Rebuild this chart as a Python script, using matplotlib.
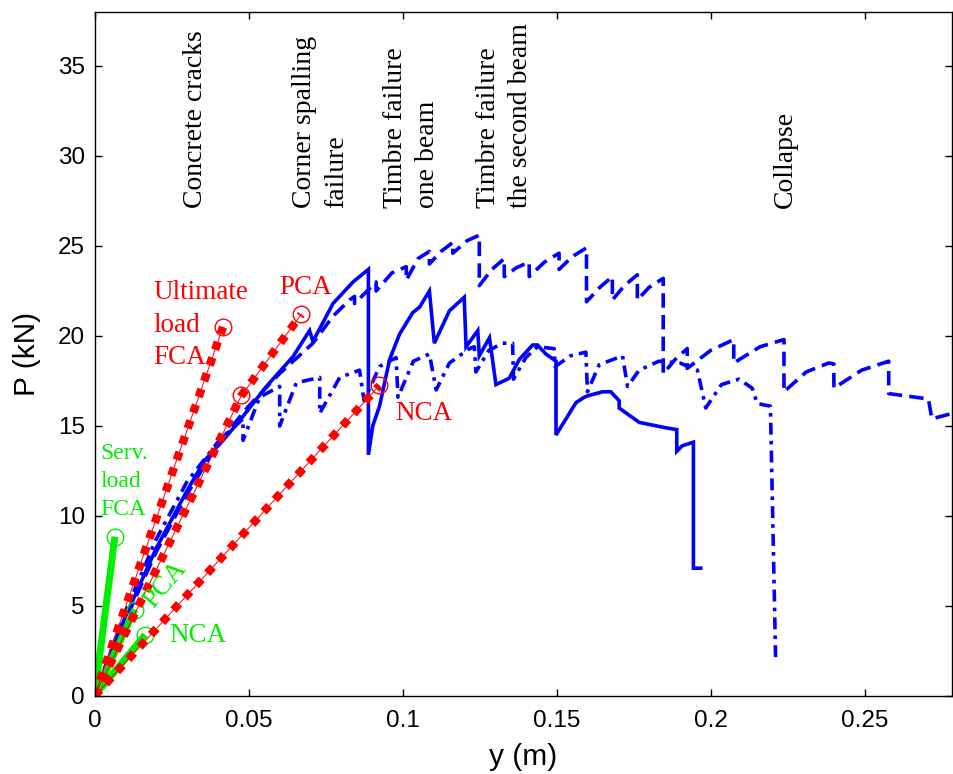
import matplotlib
matplotlib.use('Agg')
import matplotlib.pyplot as plt

# --- test curves ---
solid_x = [0, 0.005, 0.01, 0.02, 0.03, 0.0358, 0.0417, 0.0471, 0.0558, 0.0644, 0.0698, 0.0709,
           0.0774, 0.0839, 0.0889, 0.0889, 0.0903, 0.0925, 0.0958, 0.099, 0.1033, 0.1055, 0.1087,
           0.1103, 0.1152, 0.12, 0.1206, 0.1244, 0.1249, 0.1282, 0.1303, 0.1346, 0.1379, 0.1422,
           0.1438, 0.1465, 0.1498, 0.1498, 0.1563, 0.159, 0.1606, 0.1649, 0.1676, 0.1703, 0.1703,
           0.1768, 0.1854, 0.189, 0.189, 0.1908, 0.1944, 0.1944, 0.1968]
solid_y = [0, 2.3, 4.4, 8.2, 11.4, 13.1, 14.2, 15.3, 17.2, 18.85, 20.3, 19.7,
           21.8, 23.0, 23.7, 13.4, 15.0, 16.1, 18.7, 20.1, 21.3, 21.6, 22.5,
           19.6, 21.4, 22.15, 19.4, 20.3, 18.9, 19.9, 17.3, 17.65, 18.7, 19.5,
           19.5, 19.0, 18.6, 14.5, 16.3, 16.6, 16.7, 16.9, 16.9, 16.4, 16.0,
           15.2, 14.9, 14.8, 13.6, 13.9, 14.1, 7.1, 7.1]

dashed_x = [0, 0.01, 0.02, 0.03, 0.04, 0.05, 0.06, 0.0709, 0.0774, 0.0828, 0.0844, 0.0844,
            0.0914, 0.0914, 0.0965, 0.1012, 0.1012, 0.105, 0.1087, 0.1087, 0.1125, 0.1163,
            0.1163, 0.121, 0.1249, 0.1249, 0.129, 0.133, 0.133, 0.137, 0.1411, 0.1411, 0.146,
            0.1508, 0.1508, 0.155, 0.1597, 0.1597, 0.164, 0.1681, 0.1681, 0.172, 0.1762, 0.1762,
            0.18, 0.1846, 0.1846, 0.1885, 0.1924, 0.1924, 0.2, 0.2075, 0.2075, 0.216, 0.2238,
            0.2238, 0.231, 0.2383, 0.24, 0.24, 0.249, 0.2578, 0.2578, 0.2707, 0.2718, 0.2785]
dashed_y = [0, 4.2, 8.0, 11.2, 14.0, 16.1, 17.9, 19.6, 21.1, 22.0, 22.2, 21.8,
            23.0, 22.5, 23.5, 23.85, 23.1, 24.3, 24.7, 24.0, 24.7, 25.2,
            24.6, 25.3, 25.6, 22.8, 23.7, 24.3, 23.3, 23.8, 24.1, 23.3, 24.1,
            24.6, 23.7, 24.4, 24.9, 21.9, 22.7, 23.3, 22.0, 22.8, 23.4, 22.0,
            22.7, 23.2, 17.9, 18.7, 19.3, 18.2, 19.2, 19.8, 18.5, 19.4, 19.8,
            16.9, 18.0, 18.5, 18.45, 17.1, 18.1, 18.6, 16.8, 16.5, 15.4, 15.7]

dashdot_x = [0, 0.01, 0.02, 0.03, 0.04, 0.0482, 0.0482, 0.0536, 0.0601, 0.0601, 0.0655, 0.0731,
             0.0731, 0.0796, 0.086, 0.0875, 0.0925, 0.0979, 0.0985, 0.1035, 0.1087, 0.1109,
             0.1152, 0.1217, 0.1233, 0.1238, 0.128, 0.1325, 0.1357, 0.136, 0.14, 0.1438, 0.1492,
             0.1495, 0.1545, 0.1595, 0.16, 0.1638, 0.1714, 0.173, 0.1768, 0.1832, 0.19, 0.1957,
             0.1984, 0.2035, 0.2092, 0.2135, 0.2151, 0.2194, 0.2211]
dashdot_y = [0, 4.7, 8.7, 11.9, 14.1, 15.4, 14.2, 16.6, 17.2, 15.0, 17.4, 17.7,
             15.7, 17.7, 18.1, 16.4, 18.3, 18.8, 16.6, 18.6, 19.0, 17.0,
             18.5, 19.3, 19.4, 18.0, 19.2, 19.6, 19.6, 17.6, 18.8, 19.4, 19.3,
             18.3, 18.9, 19.1, 16.9, 18.4, 18.9, 17.2, 18.1, 18.6, 18.5, 18.1,
             16.0, 17.3, 17.6, 17.1, 16.25, 16.1, 2.0]

# --- predicted ultimate loads (red) and service loads (green) ---
ult_fca_x, ult_fca_y = [0, 0.0417], [0, 20.5]
ult_pca_x, ult_pca_y = [0, 0.0477, 0.0671], [0, 16.7, 21.2]
ult_nca_x, ult_nca_y = [0, 0.0925], [0, 17.25]
serv_fca_x, serv_fca_y = [0, 0.0066], [0, 8.85]
serv_pca_x, serv_pca_y = [0, 0.0131], [0, 4.8]
serv_nca_x, serv_nca_y = [0, 0.0164], [0, 3.4]

# failure stages written on top
stage_x = [0.0329, 0.0734, 0.1029, 0.133, 0.2244]
stage_txt = ['Concrete cracks', 'Corner spalling\nfailure', 'Timbre failure\none beam',
             'Timbre failure\nthe second beam', 'Collapse']

SANS = 'Liberation Sans'
SERIF = 'Liberation Serif'
blue = '#0000ff'
red = '#ff0000'
green = '#00ee00'

fig = plt.figure(figsize=(9.54, 7.74), dpi=100)
ax = fig.add_axes([0.0991, 0.1008, 0.8993, 0.8837])

ax.plot(solid_x, solid_y, color=blue, lw=2.6, solid_joinstyle='miter')
ax.plot(dashed_x, dashed_y, color=blue, lw=2.6, linestyle=(0, (4, 2)))
ax.plot(dashdot_x, dashdot_y, color=blue, lw=2.6, linestyle=(0, (3.3, 1.7, 1, 1.7)))

# service loads
for xs, ys in [(serv_fca_x, serv_fca_y), (serv_pca_x, serv_pca_y), (serv_nca_x, serv_nca_y)]:
    ax.plot(xs, ys, color=green, lw=5, solid_capstyle='butt')
    ax.plot(xs[-1], ys[-1], 'o', mfc='none', mec=green, ms=12, mew=1)

# ultimate loads
for xs, ys in [(ult_fca_x, ult_fca_y), (ult_pca_x, ult_pca_y), (ult_nca_x, ult_nca_y)]:
    ax.plot(xs, ys, color=red, lw=0.7)
    ax.plot(xs, ys, color=red, lw=6, linestyle=(0, (1, 1)), dash_capstyle='butt')
    ax.plot(xs[1:], ys[1:], 'o', mfc='none', mec=red, ms=12, mew=1)

for x, t in zip(stage_x, stage_txt):
    ax.text(x, 27.1, t, rotation=90, ha='center', va='bottom', multialignment='left',
            family=SERIF, fontsize=20, linespacing=1.35)

ax.text(0.019, 23.1, 'Ultimate\nload\nFCA', color=red, family=SERIF, fontsize=19.5,
        ha='left', va='top', linespacing=1.4)
ax.text(0.0601, 23.4, 'PCA', color=red, family=SERIF, fontsize=19.5, ha='left', va='top')
ax.text(0.0977, 16.4, 'NCA', color=red, family=SERIF, fontsize=19.5, ha='left', va='top')
ax.text(0.0018, 14.05, 'Serv.\nload\nFCA', color=green, family=SERIF, fontsize=17,
        ha='left', va='top', linespacing=1.45)
ax.text(0.0228, 6.17, 'PCA', color=green, family=SERIF, fontsize=19.5, rotation=50,
        ha='center', va='center')
ax.text(0.0241, 4.05, 'NCA', color=green, family=SERIF, fontsize=19.5, ha='left', va='top')

ax.set_xlim(0, 0.2785)
ax.set_ylim(0, 38)
ax.set_xticks([0, 0.05, 0.1, 0.15, 0.2, 0.25])
ax.set_xticklabels(['0', '0.05', '0.1', '0.15', '0.2', '0.25'])
ax.set_yticks(range(0, 40, 5))
ax.tick_params(direction='in', length=5, width=1, top=True, right=True, labelsize=17.5)
ax.tick_params(axis='x', pad=10)
ax.tick_params(axis='y', pad=7)
for lab in ax.get_xticklabels() + ax.get_yticklabels():
    lab.set_family(SANS)
for s in ax.spines.values():
    s.set_linewidth(1)

ax.set_xlabel('y (m)', family=SANS, fontsize=21.5, labelpad=8)
ax.set_ylabel('P (kN)', family=SANS, fontsize=21.5, labelpad=12)

fig.savefig('out.png', dpi=100)
